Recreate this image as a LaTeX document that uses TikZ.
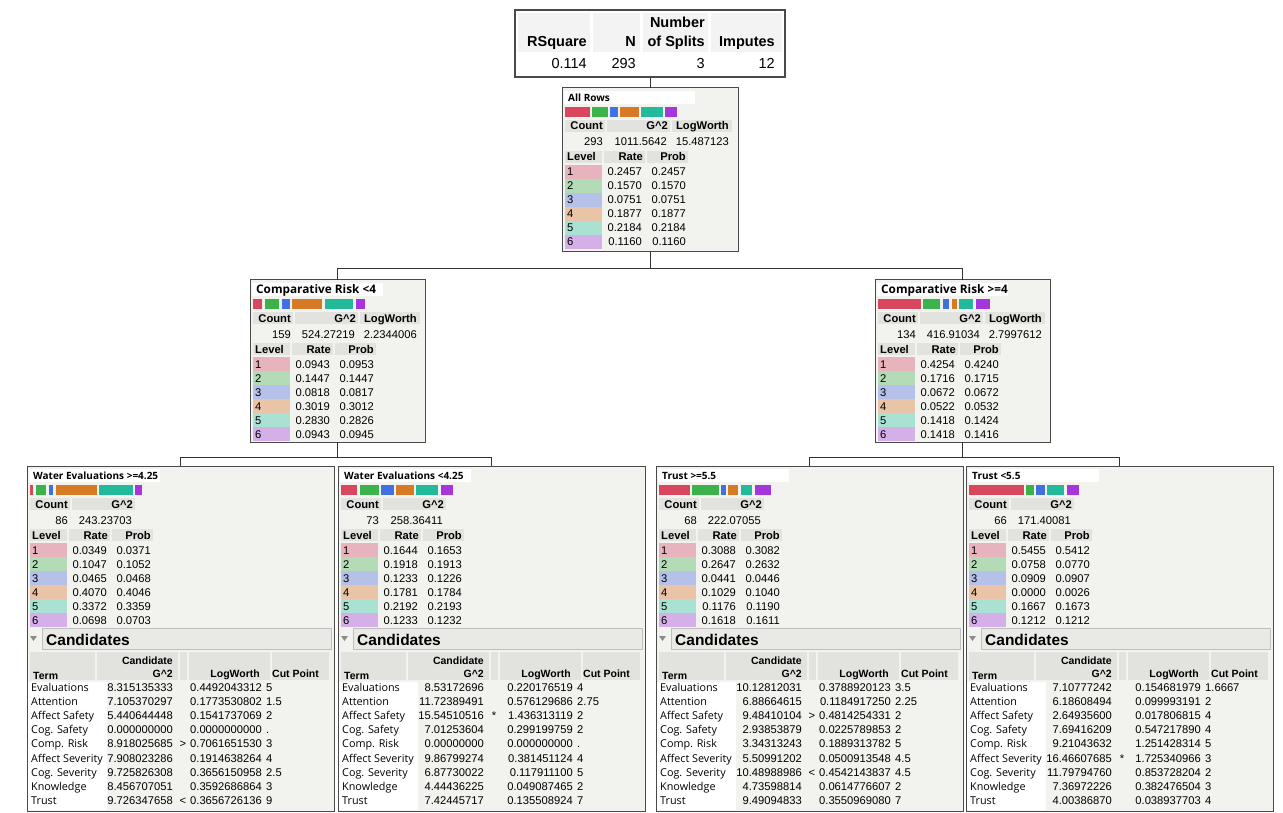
\documentclass[tikz,border=0pt]{standalone}
\usepackage{fontspec}
\setmainfont{Liberation Sans}
\newfontfamily\osans{Open Sans}
\definecolor{nodebg}{HTML}{F2F2EE}
\definecolor{hdr}{HTML}{E2E2DE}
\definecolor{cbar}{HTML}{E9E9E5}
\definecolor{bord}{HTML}{4A4A4A}
\definecolor{sumhdr}{HTML}{F3F3F3}
\definecolor{bar1}{HTML}{D8475E}
\definecolor{bar2}{HTML}{3BB34A}
\definecolor{bar3}{HTML}{3F72E0}
\definecolor{bar4}{HTML}{D67A26}
\definecolor{bar5}{HTML}{23B99B}
\definecolor{bar6}{HTML}{A436DC}
\definecolor{lv1}{HTML}{E7B3BD}
\definecolor{lv2}{HTML}{B3DBB5}
\definecolor{lv3}{HTML}{B5C1E9}
\definecolor{lv4}{HTML}{EAC4A6}
\definecolor{lv5}{HTML}{A9E2D3}
\definecolor{lv6}{HTML}{D5B0E8}
\tikzset{
  box/.style={draw=bord, line width=1pt, fill=nodebg, inner sep=0pt, outer sep=0pt, anchor=north west, rectangle},
  ttl/.style={font=\osans\bfseries\fontsize{10}{12}\selectfont, anchor=base west, inner sep=0pt},
  hd/.style={font=\bfseries\fontsize{11.2}{13}\selectfont, inner sep=0pt},
  chd/.style={font=\bfseries\fontsize{10.5}{12}\selectfont, inner sep=0pt},
  nm/.style={font=\fontsize{11.2}{13}\selectfont, inner sep=0pt},
  trm/.style={font=\osans\fontsize{10.8}{12}\selectfont, inner sep=0pt, anchor=base west},
  candt/.style={font=\bfseries\fontsize{15.5}{17}\selectfont, inner sep=0pt, anchor=base west},
  sumhd/.style={font=\bfseries\fontsize{14.5}{17}\selectfont, inner sep=0pt, anchor=base east},
  sumnm/.style={font=\fontsize{14.5}{17}\selectfont, inner sep=0pt, anchor=base east},
  conn/.style={draw=black!80, line width=0.8pt},
}
% #1 node name, #2 title, #3 count, #4 G^2, #5 LogWorth (may be empty), #6 list rate/prob
\newcommand\nodetop[6]{%
 \begin{scope}[shift={(#1.north west)}]
  \fill[white] (2,3) rectangle (133,16);
  \node[ttl] (#1-title) at (6,13.5) {#2};
  \xdef\gbx{3}%
  \foreach \vr/\vp [count=\i] in {#6}{%
    \pgfmathsetmacro\bw{100*\vr}%
    \ifdim\bw pt>0.05pt
      \fill[bar\i] (\gbx,19) rectangle ++(\bw,10);
      \pgfmathsetmacro\nx{\gbx+\bw+2.4}%
      \xdef\gbx{\nx}%
    \fi
  }
  \fill[hdr] (3,32) rectangle (43,44);
  \fill[hdr] (45,32) rectangle (108,44);
  \node[hd,anchor=base east] (#1-hc) at (41,42) {Count};
  \node[hd,anchor=base east] (#1-hg) at (106,42) {G\textasciicircum2};
  \node[nm,anchor=base east] (#1-vc) at (41,58) {#3};
  \node[nm,anchor=base east] (#1-vg) at (105,58) {#4};
  \def\tmplw{#5}\ifx\tmplw\empty\else
    \fill[hdr] (110,32) rectangle (170,44);
    \node[hd,anchor=base east] (#1-hl) at (167,42) {LogWorth};
    \node[nm,anchor=base east] (#1-vl) at (167,58) {#5};
  \fi
  \fill[hdr] (3,63) rectangle (40,75);
  \fill[hdr] (42,63) rectangle (83,75);
  \fill[hdr] (85,63) rectangle (126,75);
  \node[hd,anchor=base west] (#1-hlev) at (5,73) {Level};
  \node[hd,anchor=base east] (#1-hrate) at (81,73) {Rate};
  \node[hd,anchor=base east] (#1-hprob) at (124,73) {Prob};
  \foreach \vr/\vp [count=\i] in {#6}{%
    \pgfmathsetmacro\yt{77+14*(\i-1)}%
    \pgfmathsetmacro\yb{\yt+11}%
    \fill[lv\i] (3,\yt) rectangle ++(37,14);
    \node[nm,anchor=base west] (#1-lv\i) at (5,\yb) {\i};
    \node[nm,anchor=base east] (#1-r\i) at (80,\yb) {\vr};
    \node[nm,anchor=base east] (#1-p\i) at (124,\yb) {\vp};
  }
 \end{scope}}
% #1 leaf name, #2 list term/g2/mark/logworth/cut
\newcommand\cands[2]{%
 \begin{scope}[shift={(#1.north west)}]
  \filldraw[fill=cbar, draw=black!25] (15,162) rectangle (304,183);
  \fill[black!45] (3,170) -- (10,170) -- (6.5,175) -- cycle;
  \node[candt] (#1-cand) at (19,179.5) {Candidates};
  \fill[hdr] (3,186) rectangle (68,214);
  \fill[hdr] (70,186) rectangle (151,214);
  \fill[hdr] (153,186) rectangle (160,214);
  \fill[hdr] (162,186) rectangle (243,214);
  \fill[hdr] (245,186) rectangle (302,214);
  \node[chd,anchor=base west] (#1-hterm) at (6,213) {Term};
  \node[chd,anchor=base east] (#1-hcand) at (146,198) {Candidate};
  \node[chd,anchor=base east] (#1-hg) at (146,211) {G\textasciicircum2};
  \node[chd,anchor=base east] (#1-hlw) at (233,211) {LogWorth};
  \node[chd,anchor=base west] (#1-hcut) at (245,211) {Cut Point};
  \fill[white] (1,216) rectangle (80,344);
  \foreach \ct/\cg/\cm/\cl/\cc [count=\i] in {#2}{%
    \pgfmathsetmacro\yb{225+14.2*(\i-1)}%
    \node[trm] (#1-t\i) at (4,\yb) {\ct};
    \node[nm,anchor=base east] (#1-g\i) at (146,\yb) {\cg};
    \node[nm,anchor=base] (#1-m\i) at (156,\yb) {\cm};
    \node[nm,anchor=base east] (#1-l\i) at (235,\yb) {\cl};
    \node[nm,anchor=base west] (#1-c\i) at (239,\yb) {\cc};
  }
 \end{scope}}
\begin{document}
\begin{tikzpicture}[x=1pt,y=-1pt]
\useasboundingbox (0,0) rectangle (1283,813);
\fill[white] (0,0) rectangle (1283,813);

% summary table
\node[box, fill=white, line width=1.3pt, minimum width=270pt, minimum height=67pt] (summary) at (515,10) {};
\fill[sumhdr] (518,13) rectangle (590,52);
\fill[sumhdr] (593,13) rectangle (640,52);
\fill[sumhdr] (643,13) rectangle (708,52);
\fill[sumhdr] (711,13) rectangle (782,52);
\node[sumhd] (s-h1) at (587,47) {RSquare};
\node[sumhd] (s-h2) at (636,47) {N};
\node[sumhd] (s-h3a) at (705,28) {Number};
\node[sumhd] (s-h3b) at (705,47) {of Splits};
\node[sumhd] (s-h4) at (775,47) {Imputes};
\node[sumnm] (s-v1) at (587,69) {0.114};
\node[sumnm] (s-v2) at (636,69) {293};
\node[sumnm] (s-v3) at (705,69) {3};
\node[sumnm] (s-v4) at (775,69) {12};

% boxes
\node[box, minimum width=176pt, minimum height=164pt] (root) at (562,88) {};
\node[box, minimum width=175pt, minimum height=162pt] (cl) at (250,280) {};
\node[box, minimum width=175pt, minimum height=162pt] (cr) at (875,280) {};
\node[box, minimum width=307pt, minimum height=345pt] (lf1) at (27,466) {};
\node[box, minimum width=307pt, minimum height=345pt] (lf2) at (338,466) {};
\node[box, minimum width=307pt, minimum height=345pt] (lf3) at (656,466) {};
\node[box, minimum width=307pt, minimum height=345pt] (lf4) at (966,466) {};

% connectors
\draw[conn] (summary.south) -- (root.north);
\draw[conn] (root.south) -- ++(0,16) coordinate (j1);
\draw[conn] (j1) -| (cl.north);
\draw[conn] (j1) -| (cr.north);
\draw[conn] (cl.south) -- ++(0,15) coordinate (j2);
\draw[conn] (j2) -| (lf1.north);
\draw[conn] (j2) -| (lf2.north);
\draw[conn] (cr.south) -- ++(0,15) coordinate (j3);
\draw[conn] (j3) -| (lf3.north);
\draw[conn] (j3) -| (lf4.north);

\nodetop{root}{All Rows}{293}{1011.5642}{15.487123}{0.2457/0.2457,0.1570/0.1570,0.0751/0.0751,0.1877/0.1877,0.2184/0.2184,0.1160/0.1160}
\nodetop{cl}{{\fontsize{11.8}{13}\selectfont Comparative Risk <4}}{159}{524.27219}{2.2344006}{0.0943/0.0953,0.1447/0.1447,0.0818/0.0817,0.3019/0.3012,0.2830/0.2826,0.0943/0.0945}
\nodetop{cr}{{\fontsize{11.8}{13}\selectfont Comparative Risk >=4}}{134}{416.91034}{2.7997612}{0.4254/0.4240,0.1716/0.1715,0.0672/0.0672,0.0522/0.0532,0.1418/0.1424,0.1418/0.1416}
\nodetop{lf1}{Water Evaluations >=4.25}{86}{243.23703}{}{0.0349/0.0371,0.1047/0.1052,0.0465/0.0468,0.4070/0.4046,0.3372/0.3359,0.0698/0.0703}
\nodetop{lf2}{Water Evaluations <4.25}{73}{258.36411}{}{0.1644/0.1653,0.1918/0.1913,0.1233/0.1226,0.1781/0.1784,0.2192/0.2193,0.1233/0.1232}
\nodetop{lf3}{Trust >=5.5}{68}{222.07055}{}{0.3088/0.3082,0.2647/0.2632,0.0441/0.0446,0.1029/0.1040,0.1176/0.1190,0.1618/0.1611}
\nodetop{lf4}{Trust <5.5}{66}{171.40081}{}{0.5455/0.5412,0.0758/0.0770,0.0909/0.0907,0.0000/0.0026,0.1667/0.1673,0.1212/0.1212}

\cands{lf1}{Evaluations/8.315135333/{}/0.4492043312/5,
Attention/7.105370297/{}/0.1773530802/1.5,
Affect Safety/5.440644448/{}/0.1541737069/2,
Cog. Safety/0.000000000/{}/0.0000000000/.,
Comp. Risk/8.918025685/>/0.7061651530/3,
Affect Severity/7.908023286/{}/0.1914638264/4,
Cog. Severity/9.725826308/{}/0.3656150958/2.5,
Knowledge/8.456707051/{}/0.3592686864/3,
Trust/9.726347658/</0.3656726136/9}
\cands{lf2}{Evaluations/8.53172696/{}/0.220176519/4,
Attention/11.72389491/{}/0.576129686/2.75,
Affect Safety/15.54510516/*/1.436313119/2,
Cog. Safety/7.01253604/{}/0.299199759/2,
Comp. Risk/0.00000000/{}/0.000000000/.,
Affect Severity/9.86799274/{}/0.381451124/4,
Cog. Severity/6.87730022/{}/0.117911100/5,
Knowledge/4.44436225/{}/0.049087465/2,
Trust/7.42445717/{}/0.135508924/7}
\cands{lf3}{Evaluations/10.12812031/{}/0.3788920123/3.5,
Attention/6.88664615/{}/0.1184917250/2.25,
Affect Safety/9.48410104/>/0.4814254331/2,
Cog. Safety/2.93853879/{}/0.0225789853/2,
Comp. Risk/3.34313243/{}/0.1889313782/5,
Affect Severity/5.50991202/{}/0.0500913548/4.5,
Cog. Severity/10.48988986/</0.4542143837/4.5,
Knowledge/4.73598814/{}/0.0614776607/2,
Trust/9.49094833/{}/0.3550969080/7}
\cands{lf4}{Evaluations/7.10777242/{}/0.154681979/1.6667,
Attention/6.18608494/{}/0.099993191/2,
Affect Safety/2.64935600/{}/0.017806815/4,
Cog. Safety/7.69416209/{}/0.547217890/4,
Comp. Risk/9.21043632/{}/1.251428314/5,
Affect Severity/16.46607685/*/1.725340966/3,
Cog. Severity/11.79794760/{}/0.853728204/2,
Knowledge/7.36972226/{}/0.382476504/3,
Trust/4.00386870/{}/0.038937703/4}
\end{tikzpicture}
\end{document}
